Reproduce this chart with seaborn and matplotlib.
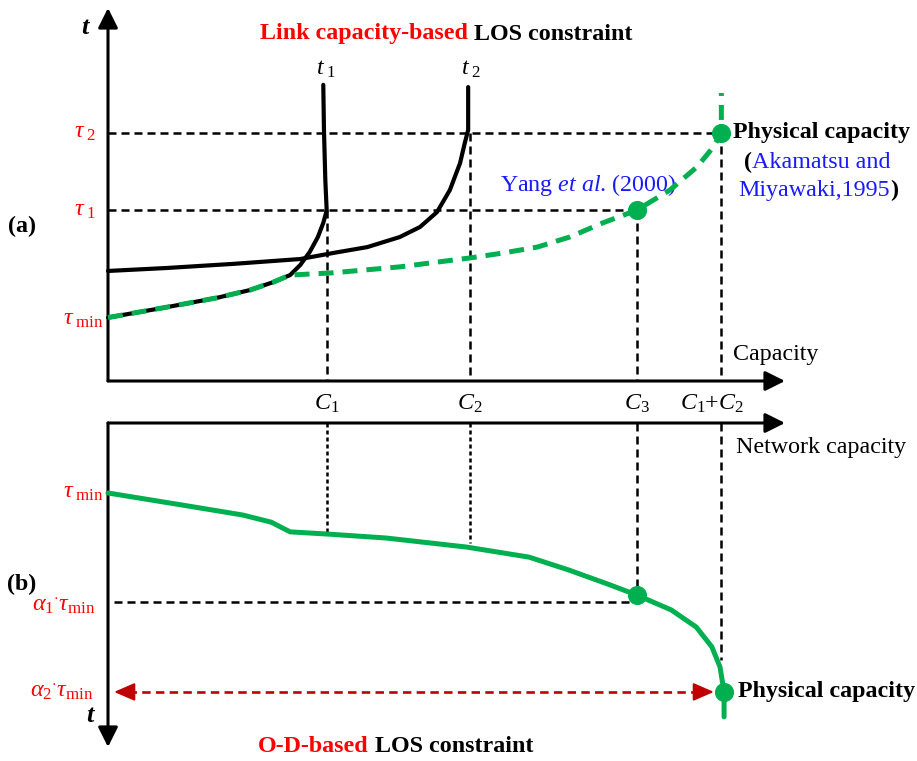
import matplotlib
matplotlib.use("Agg")
import matplotlib.pyplot as plt
import matplotlib.transforms as mtransforms
import seaborn as sns

# ---------------------------------------------------------------------------
# Key levels (abstract capacity / time units)
C1, C2, C3, CP = 3.23, 5.35, 7.81, 9.06          # C1, C2, C3, C1+C2
TAU_MIN, TAU1, TAU2 = 1.70, 4.58, 6.65           # panel (a) time levels
TAU_MIN_B, ALPHA1_B, ALPHA2_B = 2.16, 5.54, 8.30  # panel (b) time levels (t grows downward)

# Panel (a): link cost curves t1, t2
T1_X = [0.00, 0.87, 1.61, 2.10, 2.44, 2.69, 2.84, 2.98, 3.10, 3.18, 3.22, 3.23,
        3.21, 3.19, 3.18]
T1_Y = [1.70, 1.98, 2.23, 2.44, 2.65, 2.84, 3.11, 3.46, 3.86, 4.24, 4.50, 4.58,
        5.39, 6.73, 7.94]
T2_X = [0.00, 0.87, 1.85, 2.84, 3.32, 3.83, 4.31, 4.61, 4.86, 5.05, 5.20, 5.27,
        5.32, 5.32]
T2_Y = [2.95, 3.03, 3.14, 3.27, 3.43, 3.59, 3.86, 4.13, 4.53, 5.12, 5.84, 6.38,
        6.73, 7.88]

# Panel (a): network capacity curve (dashed green)
NET_X = [0.00, 0.87, 1.61, 2.10, 2.44, 2.69, 3.32, 4.31, 5.35, 5.83, 6.34, 6.82,
         7.31, 7.81, 8.30, 8.70, 8.94, 9.06, 9.06, 9.06]
NET_Y = [1.70, 1.98, 2.23, 2.44, 2.65, 2.84, 2.90, 3.06, 3.30, 3.43, 3.59, 3.86,
         4.24, 4.58, 5.12, 5.74, 6.27, 6.65, 7.18, 7.72]

# Panel (b): O-D based curve
OD_X = [0.00, 1.09, 1.99, 2.41, 2.69, 3.26, 4.11, 5.30, 6.22, 6.81, 7.42, 7.81,
        8.32, 8.69, 8.92, 9.04, 9.10, 9.10]
OD_Y = [2.16, 2.53, 2.84, 3.06, 3.36, 3.43, 3.55, 3.83, 4.14, 4.54, 5.00, 5.31,
        5.77, 6.30, 6.91, 7.53, 8.30, 9.07]
OD_DOT_X = [7.81, 9.10]
OD_DOT_Y = [5.31, 8.30]

# Colours
GREEN = "#00B050"
RED = "#FF0000"
DARK_RED = "#C00000"
BLUE = "#1A1AFF"

# ---------------------------------------------------------------------------
sns.set_theme(style="white")
plt.rcParams["font.family"] = ["Liberation Serif", "DejaVu Serif"]
plt.rcParams["text.color"] = "black"
plt.rcParams["mathtext.fontset"] = "custom"
plt.rcParams["mathtext.rm"] = "Liberation Serif"
plt.rcParams["mathtext.it"] = "Liberation Serif:italic"
plt.rcParams["mathtext.bf"] = "Liberation Serif:bold"
plt.rcParams["lines.solid_joinstyle"] = "round"
plt.rcParams["lines.dash_joinstyle"] = "round"

W, H = 917, 761
fig = plt.figure(figsize=(W / 100, H / 100), dpi=100)
fig.patch.set_facecolor("white")


def fx(px):
    return px / W


def fy(py):
    return 1 - py / H


ax_a = fig.add_axes([fx(108), fy(381), fx(785) - fx(108), fy(8) - fy(381)])
ax_b = fig.add_axes([fx(108), fy(747), fx(785) - fx(108), fy(423) - fy(747)])
for ax in (ax_a, ax_b):
    ax.set_xlim(0, 10)
    ax.set_axis_off()
ax_a.set_ylim(0, 10)
ax_b.set_ylim(10, 0)

AXIS_ARROW = dict(arrowstyle="-|>,head_length=1.0,head_width=0.5", lw=2.2,
                  color="black", mutation_scale=12, shrinkA=0, shrinkB=0)


def axis_arrow(ax, start, end):
    ax.annotate("", xy=end, xytext=start, xycoords="axes fraction",
                textcoords="axes fraction", arrowprops=AXIS_ARROW,
                annotation_clip=False)


axis_arrow(ax_a, (0, 0), (0, 1))
axis_arrow(ax_a, (0, 0), (1, 0))
axis_arrow(ax_b, (0, 1), (1, 1))
axis_arrow(ax_b, (0, 1), (0, 0))

GUIDE = dict(color="black", lw=1.8, linestyle=(0, (3.2, 2.0)), clip_on=False, zorder=2)
GUIDE_FINE = dict(color="black", lw=1.8, linestyle=(0, (1.6, 1.2)), clip_on=False, zorder=2)

# ---- panel (a) guides
ax_a.plot([0, CP], [TAU2, TAU2], **GUIDE)
ax_a.plot([0, C3], [TAU1, TAU1], **GUIDE)
ax_a.plot([C1, C1], [TAU1, 0], **GUIDE)
ax_a.plot([C2, C2], [TAU2, 0], **GUIDE)
ax_a.plot([C3, C3], [TAU1, 0], **GUIDE)
ax_a.plot([CP, CP], [TAU2, 0], **GUIDE)

# ---- panel (a) curves
sns.lineplot(x=T1_X, y=T1_Y, sort=False, estimator=None, color="black", linewidth=3.0,
             ax=ax_a, zorder=3, clip_on=False)
sns.lineplot(x=T2_X, y=T2_Y, sort=False, estimator=None, color="black", linewidth=3.0,
             ax=ax_a, zorder=3, clip_on=False)
sns.lineplot(x=NET_X, y=NET_Y, sort=False, estimator=None, color=GREEN, linewidth=3.6,
             linestyle=(0, (3.0, 1.8)), ax=ax_a, zorder=4, clip_on=False)
sns.scatterplot(x=[C3, CP], y=[TAU1, TAU2], s=190, color=GREEN, edgecolor=GREEN,
                linewidth=0, ax=ax_a, zorder=5, clip_on=False)

# ---- panel (b) guides
ax_b.plot([C1, C1], [0, 3.40], **GUIDE_FINE)
ax_b.plot([C2, C2], [0, 3.70], **GUIDE_FINE)
ax_b.plot([C3, C3], [0, OD_DOT_Y[0]], **GUIDE)
ax_b.plot([CP, CP], [0, 7.31], **GUIDE)
ax_b.plot([0.09, C3 - 0.1], [ALPHA1_B, ALPHA1_B], **GUIDE)

# double-headed red arrow at alpha2 level
ARROW_L, ARROW_R = 0.09, 8.95
ax_b.plot([ARROW_L + 0.2, ARROW_R - 0.2], [ALPHA2_B, ALPHA2_B], color=DARK_RED, lw=1.9,
          linestyle=(0, (3.2, 2.0)), clip_on=False, zorder=3)
HEAD = dict(arrowstyle="-|>,head_length=1.15,head_width=0.5", color=DARK_RED, lw=1.5,
            mutation_scale=11, shrinkA=0, shrinkB=0)
ax_b.annotate("", xy=(ARROW_L, ALPHA2_B), xytext=(ARROW_L + 0.24, ALPHA2_B),
              arrowprops=HEAD, annotation_clip=False)
ax_b.annotate("", xy=(ARROW_R, ALPHA2_B), xytext=(ARROW_R - 0.24, ALPHA2_B),
              arrowprops=HEAD, annotation_clip=False)

# ---- panel (b) curve
sns.lineplot(x=OD_X, y=OD_Y, sort=False, estimator=None, color=GREEN, linewidth=3.6,
             ax=ax_b, zorder=4, clip_on=False)
sns.scatterplot(x=OD_DOT_X, y=OD_DOT_Y, s=190, color=GREEN, edgecolor=GREEN,
                linewidth=0, ax=ax_b, zorder=5, clip_on=False)

# ---------------------------------------------------------------------------
# Text
FS = 17.3
left_a = mtransforms.blended_transform_factory(ax_a.transAxes, ax_a.transData)
left_b = mtransforms.blended_transform_factory(ax_b.transAxes, ax_b.transData)

fig.text(fx(85), fy(27), "t", fontsize=19, fontweight="bold", fontstyle="italic",
         ha="center", va="center")
fig.text(fx(90), fy(716), "t", fontsize=19, fontweight="bold", fontstyle="italic",
         ha="center", va="center")

head_a = fig.text(fx(260), fy(34), "Link capacity-based", color=RED, fontsize=FS,
                  fontweight="bold", ha="left", va="center")
ax_a.annotate(" LOS constraint", xycoords=head_a, xy=(1, 0), va="bottom", ha="left",
              fontsize=FS, fontweight="bold", color="black", annotation_clip=False)
head_b = fig.text(fx(258), fy(747), "O-D-based", color=RED, fontsize=FS,
                  fontweight="bold", ha="left", va="center")
ax_b.annotate(" LOS constraint", xycoords=head_b, xy=(1, 0), va="bottom", ha="left",
              fontsize=FS, fontweight="bold", color="black", annotation_clip=False)

fig.text(fx(22), fy(226), "(a)", fontsize=FS, fontweight="bold", ha="center", va="center")
fig.text(fx(22), fy(584), "(b)", fontsize=FS, fontweight="bold", ha="center", va="center")

ax_a.text(3.22, 8.35, r"$t_{\ 1}$", fontsize=FS, ha="center", va="center")
ax_a.text(5.37, 8.35, r"$t_{\ 2}$", fontsize=FS, ha="center", va="center")

ax_a.text(-0.017, TAU2, r"$\tau_{\ 2}$", transform=left_a, color=RED, fontsize=FS,
          ha="right", va="center")
ax_a.text(-0.017, TAU1, r"$\tau_{\ 1}$", transform=left_a, color=RED, fontsize=FS,
          ha="right", va="center")
ax_a.text(-0.007, TAU_MIN - 0.05, r"$\tau_{\ \mathrm{min}}$", transform=left_a, color=RED,
          fontsize=FS, ha="right", va="center")

for cx, lab in [(C1, r"$C_1$"), (C2, r"$C_2$"), (C3, r"$C_3$"), (8.92, r"$C_1$+$C_2$")]:
    ax_a.text(cx, -0.6, lab, fontsize=FS, ha="center", va="center")

ax_a.text(9.23, 0.7, "Capacity", fontsize=FS, ha="left", va="center")
ax_a.text(7.09, 5.25, r"Yang $et\ al$. (2000)", color=BLUE, fontsize=FS,
          ha="center", va="center")
ax_a.text(9.23, TAU2, "Physical capacity", fontsize=FS, fontweight="bold",
          ha="left", va="center")

ref1 = ax_a.text(9.40, 5.85, "(", fontsize=FS, fontweight="bold", ha="left", va="center")
ax_a.annotate("Akamatsu and", xycoords=ref1, xy=(1, 0), va="bottom", ha="left",
              fontsize=FS, color=BLUE, annotation_clip=False)
ref2 = ax_a.text(9.31, 5.10, "Miyawaki,1995", fontsize=FS, color=BLUE, ha="left",
                 va="center")
ax_a.annotate(")", xycoords=ref2, xy=(1, 0), va="bottom", ha="left",
              fontsize=FS, fontweight="bold", annotation_clip=False)

ax_b.text(9.28, 0.77, "Network capacity", fontsize=FS, ha="left", va="center")
ax_b.text(-0.007, TAU_MIN_B, r"$\tau_{\ \mathrm{min}}$", transform=left_b, color=RED,
          fontsize=FS, ha="right", va="center")
ax_b.text(-0.019, ALPHA1_B + 0.1, r"$\alpha_1{}^{\cdot}\tau_{\mathrm{min}}$", transform=left_b,
          color=RED, fontsize=FS, ha="right", va="center")
ax_b.text(-0.022, ALPHA2_B, r"$\alpha_2{}^{\cdot}\tau_{\mathrm{min}}$", transform=left_b,
          color=RED, fontsize=FS, ha="right", va="center")
ax_b.text(9.31, ALPHA2_B, "Physical capacity", fontsize=FS, fontweight="bold",
          ha="left", va="center")

fig.savefig("out.png", dpi=100, facecolor="white")
